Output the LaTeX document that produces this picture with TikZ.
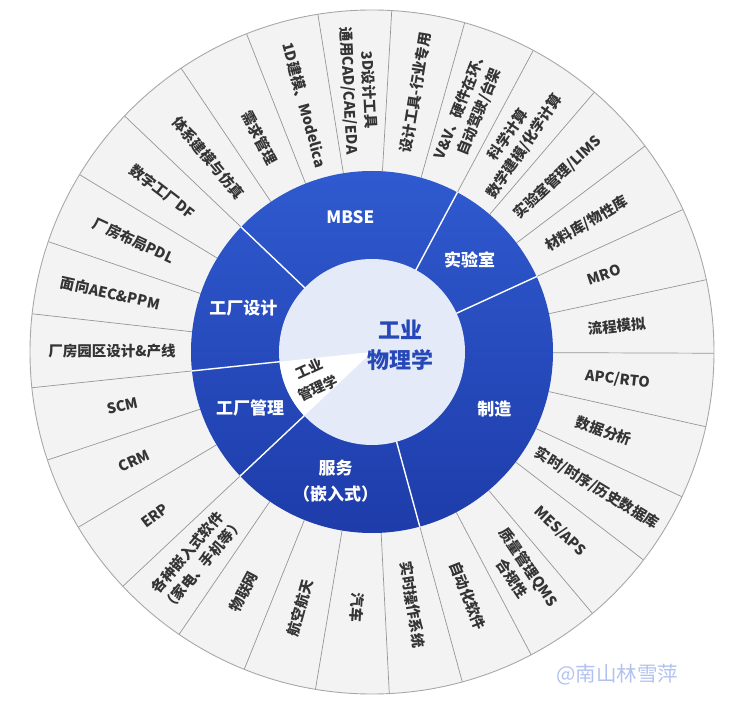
\documentclass[tikz,border=0pt]{standalone}
\usepackage{fontspec}
\setmainfont{Noto Sans CJK SC}
\usetikzlibrary{calc}
\definecolor{outerfill}{RGB}{243,243,243}
\definecolor{outerline}{RGB}{168,168,168}
\definecolor{sepcol}{RGB}{150,150,150}
\definecolor{blueTop}{RGB}{47,90,207}
\definecolor{blueBot}{RGB}{30,60,170}
\definecolor{corefill}{RGB}{228,234,248}
\definecolor{coreblue}{RGB}{39,72,185}
\definecolor{labelgray}{RGB}{52,52,52}
\definecolor{wmark}{RGB}{178,194,240}
\tikzset{
  leaflabel/.style={text=labelgray, font=\bfseries\fontsize{14.5}{20}\selectfont, align=center, inner sep=0pt},
  ringlabel/.style={text=white, font=\bfseries\fontsize{17}{26}\selectfont, align=center, inner sep=0pt},
  sepgray/.style={draw=sepcol, line width=0.7pt},
  sepwhite/.style={draw=white, line width=1.4pt},
}
\newcommand\sbleaf[4]{%
  \pgfmathsetmacro\sbang{186+(#2+0.5)*360/29}%
  \pgfmathsetmacro\sbnorm{mod(\sbang,360)}%
  \pgfmathsetmacro\sbrot{ifthenelse(and(\sbnorm>90,\sbnorm<270),\sbnorm-180,\sbnorm)}%
  \node[leaflabel, rotate=\sbrot] (#1) at (\sbang:#3) {#4};%
}
\begin{document}
\begin{tikzpicture}[x=1pt,y=1pt]
\useasboundingbox (-372,-351) rectangle (371,352);
% outer ring
\fill[outerfill] (0,0) circle (342);
\foreach \k in {0,...,28} {
  \pgfmathsetmacro\bang{186+\k*360/29}
  \draw[sepgray] (\bang:181) -- (\bang:342);
}
\draw[outerline, line width=0.9pt] (0,0) circle (342);
% blue ring
\shade[top color=blueTop, bottom color=blueBot] (0,0) circle (181);
\foreach \bang in {186,223.24,285.31,24.62,61.86,136.34} {
  \draw[sepwhite] (\bang:92) -- (\bang:181.5);
}
% core
\fill[corefill] (0,0) circle (93);
\fill[white] (0,0) -- (186:93) arc[start angle=186, end angle=223.24, radius=93] -- cycle;
% core labels
\node[text=coreblue, font=\bfseries\fontsize{22}{30}\selectfont, align=center, inner sep=0pt] (core) at (28,7) {工业\\物理学};
\node[text=labelgray, font=\bfseries\fontsize{14}{21}\selectfont, align=center, inner sep=0pt, rotate=24.6] (mgmt) at (204.6:64) {工业\\管理学};
% ring labels
\node[ringlabel] (mbse) at (99.1:137) {MBSE};
\node[ringlabel] (lab) at (43.24:134) {实验室};
\node[ringlabel] (fdesign) at (161.2:136) {工厂设计};
\node[ringlabel] (fmanage) at (204.6:134) {工厂管理};
\node[ringlabel] (manu) at (-25:135) {制造};
\node[ringlabel] (serv) at (254.3:134) {服务\\（嵌入式）};
% leaf labels
\sbleaf{l0}{0}{255}{SCM}
\sbleaf{l1}{1}{262}{CRM}
\sbleaf{l2}{2}{272}{ERP}
\sbleaf{l3}{3}{272}{各种嵌入式软件\\（家电、手机等）}
\sbleaf{l4}{4}{272}{物联网}
\sbleaf{l5}{5}{266}{航空航天}
\node[leaflabel, rotate=266.69] (l6) at (266.69:256) {汽车};
\sbleaf{l7}{7}{256}{实时操作系统}
\sbleaf{l8}{8}{262}{自动化软件}
\sbleaf{l9}{9}{266}{质量管理QMS\\合规性}
\sbleaf{l10}{10}{260}{MES/APS}
\sbleaf{l11}{11}{263}{实时/时序/历史数据库}
\sbleaf{l12}{12}{245}{数据分析}
\sbleaf{l13}{13}{247}{APC/RTO}
\sbleaf{l14}{14}{246}{流程模拟}
\sbleaf{l15}{15}{245}{MRO}
\sbleaf{l16}{16}{250}{材料库/物性库}
\sbleaf{l17}{17}{255}{实验室管理/LIMS}
\sbleaf{l18}{18}{256}{科学计算\\数学建模/化学计算}
\sbleaf{l19}{19}{263}{V\&V、硬件在环、\\自动驾驶/台架}
\sbleaf{l20}{20}{263}{设计工具-行业专用}
\sbleaf{l21}{21}{262}{3D设计工具\\通用CAD/CAE/EDA}
\sbleaf{l22}{22}{256}{1D建模、Modelica}
\sbleaf{l23}{23}{242}{需求管理}
\sbleaf{l24}{24}{254}{体系建模与仿真}
\sbleaf{l25}{25}{264}{数字工厂DF}
\sbleaf{l26}{26}{263}{厂房布局PDL}
\sbleaf{l27}{27}{268}{面向AEC\&PPM}
\sbleaf{l28}{28}{260}{厂房园区设计\&产线}
% watermark
\node[text=wmark, font=\fontsize{20.5}{24}\selectfont, inner sep=0pt] (wm) at (245.5,-323) {@南山林雪萍};
\end{tikzpicture}
\end{document}
